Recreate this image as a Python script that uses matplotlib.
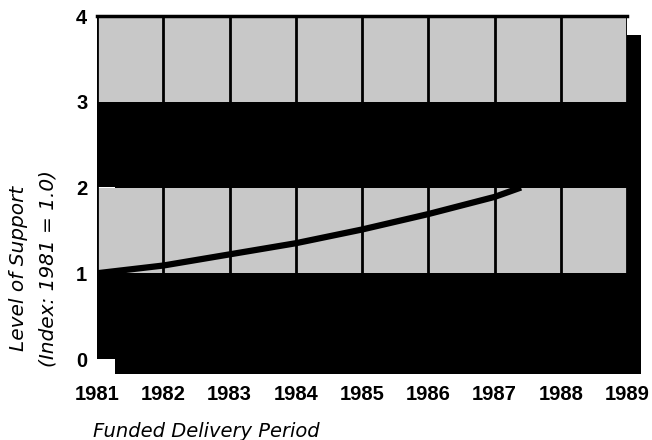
import matplotlib
matplotlib.use("Agg")
import matplotlib.pyplot as plt
from matplotlib.patches import Rectangle

# data
years = [1981, 1982, 1983, 1984, 1985, 1986, 1987, 1987.4]
support = [1.0, 1.09, 1.22, 1.35, 1.51, 1.69, 1.89, 2.0]
tick_years = [1981, 1982, 1983, 1984, 1985, 1986, 1987, 1988, 1989]
level_ticks = [0, 1, 2, 3, 4]
dark_bands = [(0, 1), (2, 3)]
light_bands = [(1, 2), (3, 4)]

grey = '#c8c8c8'

fig = plt.figure(figsize=(6.52, 4.4), dpi=100)
ax = fig.add_axes([97 / 652, 1 - 359 / 440, 530 / 652, 343 / 440])
ax.set_xlim(tick_years[0], tick_years[-1])
ax.set_ylim(level_ticks[0], level_ticks[-1])
ax.set_facecolor('none')

# drop shadow behind the plot area
dx = (tick_years[-1] - tick_years[0]) / 530.0
dy = (level_ticks[-1] - level_ticks[0]) / 343.0
shadow = Rectangle((tick_years[0] + 18 * dx, -15 * dy),
                   (tick_years[-1] - tick_years[0]) - 4 * dx, level_ticks[-1] - 4 * dy,
                   facecolor='black', edgecolor='none', zorder=-5, clip_on=False)
ax.add_patch(shadow)

for lo, hi in light_bands:
    ax.axhspan(lo, hi, color=grey, zorder=0.5, lw=0)
for lo, hi in dark_bands:
    ax.axhspan(lo, hi, color='black', zorder=1, lw=0)

ax.vlines(tick_years, level_ticks[0], level_ticks[-1], color='black', lw=2, zorder=2)
ax.plot(years, support, color='black', lw=4.5, zorder=3, solid_capstyle='butt')

for s in ['left', 'right', 'bottom']:
    ax.spines[s].set_visible(False)
ax.spines['top'].set_linewidth(2.5)
ax.spines['top'].set_zorder(4)

ax.set_xticks(tick_years)
ax.set_xticklabels([str(y) for y in tick_years])
ax.set_yticks(level_ticks)
ax.tick_params(length=0)
ax.tick_params(axis='x', pad=18.5)
ax.tick_params(axis='y', pad=7)
for lab in ax.get_xticklabels() + ax.get_yticklabels():
    lab.set_fontfamily('Liberation Sans')
    lab.set_fontweight('bold')
    lab.set_fontsize(14.5)

fig.text(19 / 652, 1 - 268 / 440, 'Level of Support', rotation=90, ha='center', va='center',
         fontsize=14.5, style='italic', family='DejaVu Sans')
fig.text(48 / 652, 1 - 268 / 440, '(Index: 1981 = 1.0)', rotation=90, ha='center', va='center',
         fontsize=14.5, style='italic', family='DejaVu Sans')
fig.text(93 / 652, 1 - 437 / 440, 'Funded Delivery Period', ha='left', va='baseline',
         fontsize=14, style='italic', family='DejaVu Sans')

fig.savefig('out.png', dpi=100)
